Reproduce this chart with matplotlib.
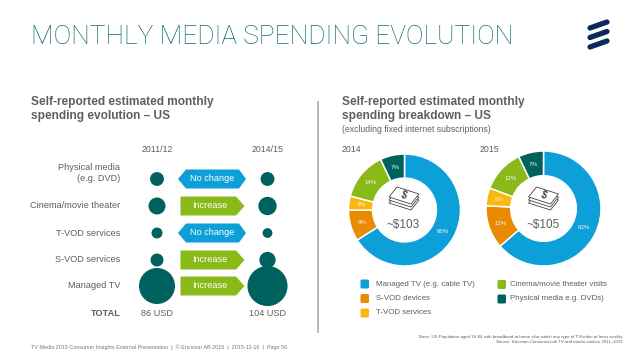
import numpy as np
import matplotlib
matplotlib.use("Agg")
import matplotlib.pyplot as plt
from matplotlib.patches import Polygon, FancyBboxPatch

plt.rcParams['font.family'] = ['Liberation Sans', 'DejaVu Sans']

# left panel
categories = ["Physical media\n(e.g. DVD)", "Cinema/movie theater", "T-VOD services", "S-VOD services", "Managed TV"]
years_left = ["2011/12", "2014/15"]
spend_2011 = [8, 12, 5, 7, 54]
spend_2014 = [8, 14, 4, 11, 67]
changes = ["No change", "Increase", "No change", "Increase", "Increase"]
totals = ["86 USD", "104 USD"]

# right panel
pie_labels = ["Managed TV (e.g. cable TV)", "S-VOD devices", "T-VOD services", "Cinema/movie theater visits", "Physical media e.g. DVDs)"]
share_2014 = [66, 9, 4, 14, 7]
share_2015 = [63, 12, 5, 12, 7]
pie_totals = ["~$103", "~$105"]

W, H = 638, 359
TEAL = "#00625f"
GREY = "#5f5f5f"
BLUE = "#0d9fd8"
GREEN = "#89ba17"
pie_colors = [BLUE, "#ea8a00", "#fab70f", GREEN, TEAL]

fig = plt.figure(figsize=(W / 100, H / 100), dpi=100)


def draw_pie(values, cx, cy, r):
    pad = 1.03
    pie_ax = fig.add_axes([(cx - r * pad) / W, 1 - (cy + r * pad) / H, 2 * r * pad / W, 2 * r * pad / H])
    wedges, texts = pie_ax.pie(values, colors=pie_colors, startangle=90, counterclock=False,
                               labels=[f"{v}%" for v in values], labeldistance=0.78,
                               wedgeprops=dict(width=0.43, edgecolor="white", linewidth=1.1),
                               textprops=dict(color="#f2f2f2", fontsize=4.4))
    for t in texts:
        t.set_ha("center")
        t.set_va("center")
    pie_ax.set_xlim(-pad, pad)
    pie_ax.set_ylim(-pad, pad)


draw_pie(share_2014, 404.5, 210, 56)
draw_pie(share_2015, 543.5, 208.5, 57.5)

# overlay in pixel coordinates
ax = fig.add_axes([0, 0, 1, 1])
ax.set_xlim(0, W)
ax.set_ylim(H, 0)
ax.axis("off")
ax.patch.set_alpha(0)

ax.text(31, 37, "MONTHLY MEDIA SPENDING EVOLUTION", family=["Roboto", "DejaVu Sans"], fontweight="light",
        fontsize=18.9, color="#146f72", va="center")

# logo
for y0 in [28, 37.5, 47]:
    ax.plot([590, 607], [y0, y0 - 6], color="#0b2a5b", lw=3.8, solid_capstyle="round")

ax.text(31, 102, "Self-reported estimated monthly", fontsize=8.6, fontweight="bold", color=GREY, va="center")
ax.text(31, 116.5, "spending evolution – US", fontsize=8.6, fontweight="bold", color=GREY, va="center")
ax.text(341.5, 102, "Self-reported estimated monthly", fontsize=8.6, fontweight="bold", color=GREY, va="center")
ax.text(341.5, 116.5, "spending breakdown – US", fontsize=8.6, fontweight="bold", color=GREY, va="center")
ax.text(341.5, 129.5, "(excluding fixed internet subscriptions)", fontsize=6.2, color=GREY, va="center")

ax.plot([318, 318], [102, 332], color="#b4b4b4", lw=1.3)

# bubbles and arrows
row_y = [179, 206, 233, 260, 286]
col_x = [157, 267.5]
k = 2.45  # px radius per sqrt(USD)
for x, vals, yr, tot in zip(col_x, [spend_2011, spend_2014], years_left, totals):
    r_pt = k * np.sqrt(vals) * 0.72
    ax.scatter([x] * len(vals), row_y, s=(2 * r_pt) ** 2, color=TEAL, linewidths=0, zorder=3)
    ax.text(x, 150, yr, fontsize=6.3, color=GREY, ha="center", va="center")
    ax.text(x, 313, tot, fontsize=6.6, color=GREY, ha="center", va="center")

for y, cat, ch in zip(row_y, categories, changes):
    if "\n" in cat:
        a, b = cat.split("\n")
        ax.text(120.5, y - 11.5, a, fontsize=6.6, color=GREY, ha="right", va="center")
        ax.text(120.5, y - 0.5, b, fontsize=6.6, color=GREY, ha="right", va="center")
    else:
        ax.text(120.5, y, cat, fontsize=6.6, color=GREY, ha="right", va="center")
    if ch == "No change":
        pts = [(178, y), (186, y - 9.5), (239, y - 9.5), (246, y), (239, y + 9.5), (186, y + 9.5)]
        ax.add_patch(Polygon(pts, closed=True, color=BLUE, lw=0, zorder=2))
        ax.text(212.5, y - 0.3, ch, fontsize=6.6, color="white", ha="center", va="center", zorder=4)
    else:
        pts = [(180.5, y - 9.5), (236, y - 9.5), (244.5, y), (236, y + 9.5), (180.5, y + 9.5)]
        ax.add_patch(Polygon(pts, closed=True, color=GREEN, lw=0, zorder=2))
        ax.text(209.5, y - 0.3, ch, fontsize=6.6, color="white", ha="center", va="center", zorder=4)

ax.text(120.5, 313.5, "TOTAL", fontsize=6.6, fontweight="bold", color=GREY, ha="right", va="center")


# stack of bills in the middle of the donuts
def draw_money(cx, cy):
    for dy in [6, 3, 0]:
        pts = [(cx - 15, cy - 1 + dy), (cx - 7, cy - 11 + dy), (cx + 15, cy - 4 + dy), (cx + 7, cy + 6 + dy)]
        ax.add_patch(Polygon(pts, closed=True, facecolor="white", edgecolor="#444444", lw=0.6, zorder=5))
    ax.text(cx, cy - 2.5, "$", fontsize=7, fontweight="bold", color="#444444", rotation=-20,
            ha="center", va="center", zorder=6)


draw_money(404, 198)
draw_money(543.5, 198)
ax.text(403.5, 225, pie_totals[0], fontsize=8.5, color=GREY, ha="center", va="center")
ax.text(543, 225, pie_totals[1], fontsize=8.5, color=GREY, ha="center", va="center")
ax.text(341.5, 150, "2014", fontsize=6.3, color=GREY, va="center")
ax.text(480, 150, "2015", fontsize=6.3, color=GREY, va="center")

# legend
leg_pos = [(360, 284), (360, 298.5), (360, 313), (497, 284.5), (497, 299)]
text_x = [376, 376, 376, 510, 510]
for (x, y), tx, lab, c in zip(leg_pos, text_x, pie_labels, pie_colors):
    ax.add_patch(FancyBboxPatch((x + 1.5, y - 3.5), 6.5, 7, boxstyle="round,pad=1,rounding_size=1.5", color=c, lw=0))
    ax.text(tx, y, lab, fontsize=5.7, color=GREY, va="center")

# footnotes
ax.text(622.5, 336.7, "Base: US Population aged 16-64 with broadband at home who watch any type of TV/video at least weekly",
        fontsize=3.15, color=GREY, ha="right", va="center")
ax.text(622.5, 342, "Source: Ericsson ConsumerLab TV and media studies 2011–2015", fontsize=3.15, color=GREY, ha="right", va="center")
ax.text(31, 346.8, "TV Media 2015 Consumer Insights External Presentation  |  © Ericsson AB 2015  |  2015-12-16  |  Page 50",
        fontsize=3.85, color="#777777", va="center")

fig.savefig("out.png", dpi=100)
